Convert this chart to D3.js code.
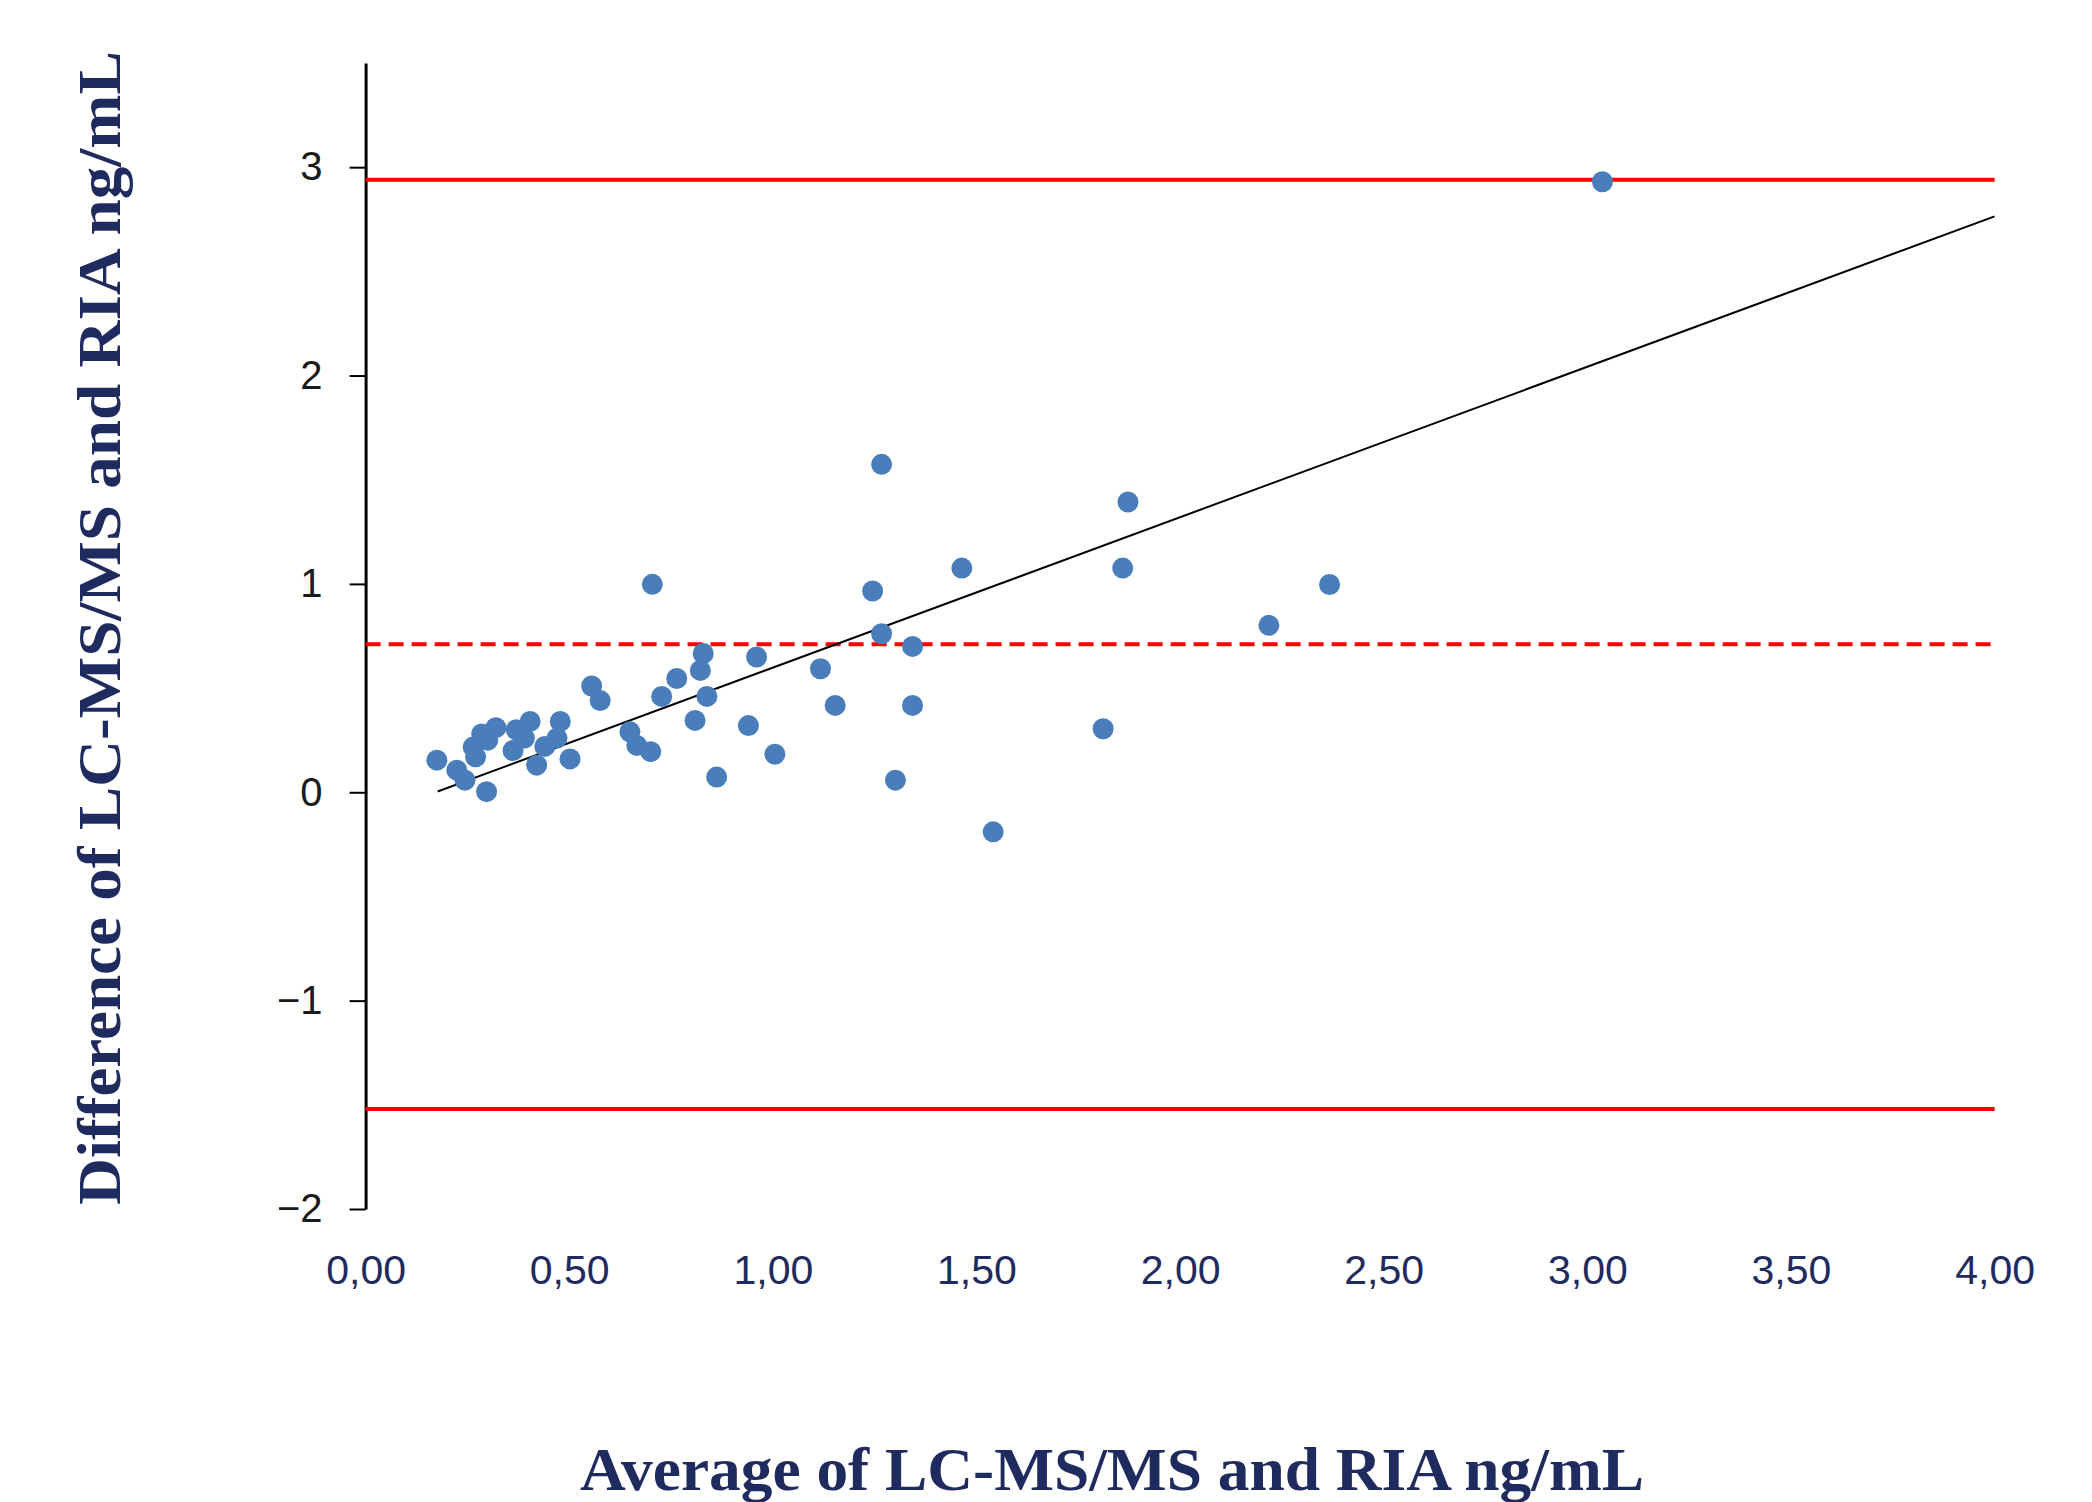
<!DOCTYPE html>
<html>
<head>
<meta charset="utf-8">
<script src="https://cdn.jsdelivr.net/npm/d3@7/dist/d3.min.js"></script>
<style>
  body { margin: 0; background: #fff; }
</style>
</head>
<body>
<div id="chart"></div>
<script>
// Bland-Altman data: average (x) and difference (y), ng/mL
var avgValues = [0.175, 0.224, 0.244, 0.297, 0.264, 0.270, 0.285, 0.320, 0.300, 0.404,
                 0.370, 0.478, 0.362, 0.390, 0.420, 0.440, 0.502, 0.470, 0.555, 0.576,
                 0.649, 0.666, 0.700, 0.727, 0.764, 0.809, 0.829, 0.822, 0.838, 0.862,
                 0.940, 0.960, 1.005, 1.117, 1.153, 1.343, 1.301, 1.541, 1.811, 1.343,
                 1.267, 2.218, 2.367, 1.859, 1.464, 1.245, 0.704, 1.872, 1.267, 3.037];
var diffValues = [0.154, 0.106, 0.058, 0.003, 0.217, 0.170, 0.280, 0.310, 0.250, 0.340,
                  0.300, 0.340, 0.200, 0.260, 0.130, 0.220, 0.160, 0.260, 0.510, 0.440,
                  0.290, 0.225, 0.195, 0.460, 0.546, 0.345, 0.666, 0.585, 0.460, 0.073,
                  0.320, 0.649, 0.183, 0.593, 0.417, 0.417, 0.058, -0.190, 0.305, 0.700,
                  0.761, 0.801, 0.997, 1.076, 1.076, 0.966, 0.998, 1.393, 1.574, 2.930];

// mean difference and limits of agreement
var meanDiff = 0.71;
var upperLimit = 2.94;
var lowerLimit = -1.52;

// regression line end points
var trendX = [0.177, 4.0];
var trendY = [0.004, 2.764];

var xTicks = [0, 0.5, 1, 1.5, 2, 2.5, 3, 3.5, 4];
var yTicks = [-2, -1, 0, 1, 2, 3];

var width = 2092, height = 1502;
var x = d3.scaleLinear().domain([0, 4]).range([365.6, 1994.6]);
var y = d3.scaleLinear().domain([-2, 3.5]).range([1209, 63]);

var locale = d3.formatLocale({decimal: ",", thousands: ".", grouping: [3], currency: ["", ""]});
var fmt = locale.format(".2f");

var svg = d3.select("#chart")
    .append("svg")
    .attr("width", width)
    .attr("height", height)
    .style("background", "#fff");

// x tick labels (no axis line)
var xAxis = svg.append("g")
    .attr("transform", "translate(0," + y(-2) + ")")
    .call(d3.axisBottom(x).tickValues(xTicks).tickFormat(fmt).tickSize(0).tickPadding(46));
xAxis.select(".domain").remove();
xAxis.selectAll("text")
    .attr("font-family", "Liberation Sans, Arial, sans-serif")
    .attr("font-size", 41)
    .attr("fill", "#1f2b5e");

// y axis
var yAxis = svg.append("g")
    .attr("transform", "translate(" + x(0) + ",0)")
    .call(d3.axisLeft(y).tickValues(yTicks).tickFormat(d3.format("d")).tickSize(16).tickSizeOuter(0).tickPadding(27));
yAxis.select(".domain").attr("stroke", "#000").attr("stroke-width", 3);
yAxis.selectAll(".tick line").attr("stroke", "#000").attr("stroke-width", 2);
yAxis.selectAll("text")
    .attr("font-family", "Liberation Sans, Arial, sans-serif")
    .attr("font-size", 40)
    .attr("fill", "#1a1a1a");

// limits of agreement
var limits = [
    {v: upperLimit, dash: null},
    {v: meanDiff, dash: "15,8"},
    {v: lowerLimit, dash: null}
];
svg.selectAll(".limit")
    .data(limits)
    .enter()
    .append("line")
    .attr("class", "limit")
    .attr("x1", x(0))
    .attr("x2", x(4))
    .attr("y1", function(d) { return y(d.v); })
    .attr("y2", function(d) { return y(d.v); })
    .attr("stroke", "#ff0000")
    .attr("stroke-width", 4)
    .attr("stroke-dasharray", function(d) { return d.dash; });

// regression line
svg.append("line")
    .attr("x1", x(trendX[0]))
    .attr("y1", y(trendY[0]))
    .attr("x2", x(trendX[1]))
    .attr("y2", y(trendY[1]))
    .attr("stroke", "#000")
    .attr("stroke-width", 2);

// points
svg.selectAll(".dot")
    .data(avgValues)
    .enter()
    .append("circle")
    .attr("class", "dot")
    .attr("cx", function(d) { return x(d); })
    .attr("cy", function(d, i) { return y(diffValues[i]); })
    .attr("r", 10.5)
    .attr("fill", "#4a7ebb");

// axis titles
svg.append("text")
    .attr("x", 1112)
    .attr("y", 1490)
    .attr("text-anchor", "middle")
    .attr("font-family", "Liberation Serif, Times New Roman, serif")
    .attr("font-weight", "bold")
    .attr("font-size", 62)
    .attr("fill", "#1f2b5e")
    .attr("textLength", 1064)
    .attr("lengthAdjust", "spacingAndGlyphs")
    .text("Average of LC-MS/MS and RIA ng/mL");

svg.append("text")
    .attr("transform", "translate(120,628) rotate(-90)")
    .attr("text-anchor", "middle")
    .attr("font-family", "Liberation Serif, Times New Roman, serif")
    .attr("font-weight", "bold")
    .attr("font-size", 62)
    .attr("fill", "#1f2b5e")
    .attr("textLength", 1154)
    .attr("lengthAdjust", "spacingAndGlyphs")
    .text("Difference of LC-MS/MS and RIA ng/mL");
</script>
</body>
</html>
